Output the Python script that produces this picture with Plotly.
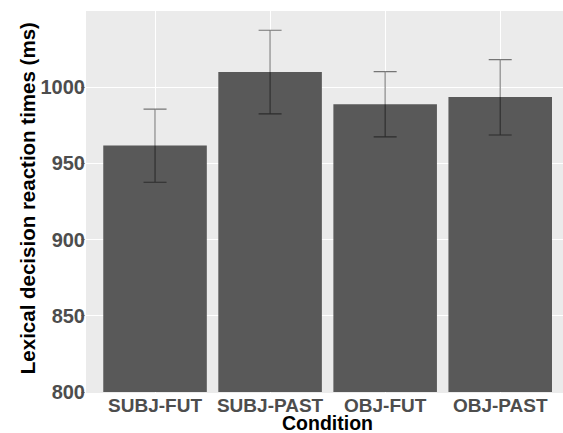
import plotly.graph_objects as go

conditions = ["SUBJ-FUT", "SUBJ-PAST", "OBJ-FUT", "OBJ-PAST"]
mean_rt = [961.7, 1010.0, 988.9, 993.6]
upper = [985.6, 1037.4, 1010.2, 1018.1]
lower = [937.7, 982.5, 967.4, 968.7]
y_ticks = [800, 850, 900, 950, 1000]

err_plus = [u - m for u, m in zip(upper, mean_rt)]
err_minus = [m - l for m, l in zip(mean_rt, lower)]

font_family = "Liberation Sans, Arial, sans-serif"

fig = go.Figure()
fig.add_trace(go.Bar(
    x=list(range(len(conditions))),
    y=[m - 800 for m in mean_rt],
    base=800,
    width=0.9,
    marker=dict(color="#595959", line=dict(width=0)),
    error_y=dict(type="data", symmetric=False, array=err_plus, arrayminus=err_minus,
                 color="rgba(0,0,0,0.5)", thickness=1.1, width=11.5),
    hoverinfo="skip",
))

# the original panel continues past the right edge of the picture
fig.update_layout(
    width=575, height=433,
    margin=dict(l=86, r=0, t=11, b=40),
    paper_bgcolor="white",
    plot_bgcolor="#ebebeb",
    showlegend=False,
    font=dict(family=font_family),
    xaxis=dict(
        range=[-0.6, 3.65],
        tickmode="array",
        tickvals=list(range(len(conditions))),
        ticktext=["<b>%s</b>" % c for c in conditions],
        tickfont=dict(size=19, color="#4d4d4d", family=font_family),
        showgrid=True, gridcolor="white", gridwidth=1,
        ticks="outside", ticklen=3, tickcolor="rgba(0,0,0,0)",
        ticklabelstandoff=-8,
        zeroline=False, showline=False, automargin=False,
    ),
    yaxis=dict(
        range=[799.4, 1050],
        tickmode="array",
        tickvals=y_ticks,
        ticktext=["<b>%d</b>" % t for t in y_ticks],
        tickfont=dict(size=20, color="#4d4d4d", family=font_family),
        showgrid=True, gridcolor="white", gridwidth=1,
        ticks="outside", ticklen=4, tickcolor="#9a9a9a",
        ticklabelstandoff=-8,
        zeroline=False, showline=False, automargin=False,
    ),
)

fig.add_annotation(
    x=0, xref="paper", xanchor="center", xshift=-59,
    y=0.51, yref="paper", yanchor="middle",
    text="<b>Lexical decision reaction times (ms)</b>", textangle=-90,
    showarrow=False,
    font=dict(size=20.5, color="black", family=font_family),
)

fig.add_annotation(
    x=1.5, xref="x", y=0, yref="paper", yanchor="middle", yshift=-30,
    text="<b>Condition</b>", showarrow=False,
    font=dict(size=19.5, color="black", family=font_family),
)

fig.write_html(
    "out.html",
    config={"displayModeBar": False},
    post_script=(
        "document.documentElement.style.overflow='hidden';"
        "document.body.style.margin='0';document.body.style.overflow='hidden';"
    ),
)
